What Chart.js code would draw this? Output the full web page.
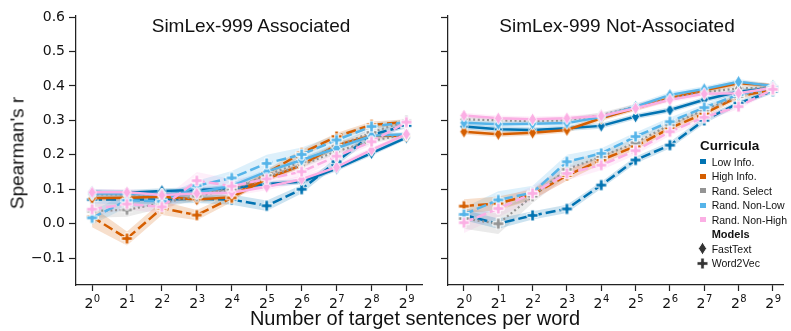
<!DOCTYPE html>
<html><head><meta charset="utf-8">
<script src="https://cdn.jsdelivr.net/npm/chart.js@4.4.1/dist/chart.umd.min.js"></script>
<style>
body{margin:0;background:#fff;width:791px;height:331px;overflow:hidden;position:relative;font-family:"Liberation Sans",Arial,sans-serif;color:#111}
canvas{position:absolute;top:0}
.t{position:absolute;white-space:nowrap;line-height:1}
.lg{position:absolute;white-space:nowrap;font-size:10.5px;line-height:12px;height:12px}
.sq{position:absolute;width:6px;height:5px}
</style></head><body>
<canvas id="c1" width="430" height="331" style="left:0"></canvas>
<canvas id="c2" width="361" height="331" style="left:430px"></canvas>
<div class="t" style="left:251px;top:25px;transform:translate(-50%,-50%);font-size:19px">SimLex-999 Associated</div>
<div class="t" style="left:617px;top:25px;transform:translate(-50%,-50%);font-size:19px">SimLex-999 Not-Associated</div>
<div class="t" style="left:17px;top:153px;transform:translate(-50%,-50%) rotate(-90deg);font-size:19px">Spearman's r</div>
<div class="t" style="left:415px;top:318px;transform:translate(-50%,-50%);font-size:20px">Number of target sentences per word</div>
<div id="legend"></div>
<script>
// ---- data ----
const xTickBase = ['2','2','2','2','2','2','2','2','2','2'];
const xTickExp  = ['0','1','2','3','4','5','6','7','8','9'];
const yTicks = [-0.1, 0.0, 0.1, 0.2, 0.3, 0.4, 0.5, 0.6];
const curricula = ['Low Info.', 'High Info.', 'Rand. Select', 'Rand. Non-Low', 'Rand. Non-High'];
const models = ['FastText', 'Word2Vec'];

// SimLex-999 Associated
const assocLowFT      = [0.092, 0.090, 0.095, 0.098, 0.103, 0.115, 0.122, 0.160, 0.205, 0.250];
const assocLowW2V     = [0.070, 0.070, 0.070, 0.072, 0.070, 0.052, 0.100, 0.180, 0.258, 0.285];
const assocHighFT     = [0.074, 0.075, 0.078, 0.070, 0.077, 0.130, 0.170, 0.228, 0.255, 0.255];
const assocHighW2V    = [0.020, -0.043, 0.045, 0.025, 0.075, 0.147, 0.205, 0.253, 0.287, 0.295];
const assocSelFT      = [0.085, 0.085, 0.085, 0.090, 0.100, 0.135, 0.170, 0.210, 0.240, 0.260];
const assocSelW2V     = [0.037, 0.040, 0.060, 0.080, 0.100, 0.140, 0.180, 0.225, 0.265, 0.298];
const assocNonLowFT   = [0.088, 0.088, 0.085, 0.090, 0.110, 0.151, 0.185, 0.219, 0.255, 0.260];
const assocNonLowW2V  = [0.017, 0.068, 0.065, 0.110, 0.133, 0.175, 0.201, 0.243, 0.282, 0.295];
const assocNonHighFT  = [0.091, 0.091, 0.083, 0.088, 0.090, 0.107, 0.129, 0.164, 0.214, 0.260];
const assocNonHighW2V = [0.042, 0.057, 0.049, 0.125, 0.109, 0.130, 0.151, 0.196, 0.238, 0.295];
// confidence half-widths
const assocLowFTci      = [0.008, 0.008, 0.008, 0.008, 0.008, 0.008, 0.008, 0.008, 0.008, 0.006];
const assocLowW2Vci     = [0.012, 0.012, 0.012, 0.012, 0.015, 0.015, 0.012, 0.012, 0.010, 0.008];
const assocHighFTci     = [0.008, 0.008, 0.008, 0.008, 0.008, 0.008, 0.008, 0.008, 0.008, 0.006];
const assocHighW2Vci    = [0.030, 0.020, 0.020, 0.015, 0.012, 0.010, 0.010, 0.010, 0.010, 0.008];
const assocSelFTci      = [0.008, 0.008, 0.008, 0.008, 0.008, 0.008, 0.008, 0.008, 0.008, 0.006];
const assocSelW2Vci     = [0.020, 0.020, 0.015, 0.012, 0.010, 0.010, 0.010, 0.010, 0.010, 0.008];
const assocNonLowFTci   = [0.008, 0.008, 0.008, 0.008, 0.008, 0.008, 0.008, 0.008, 0.008, 0.006];
const assocNonLowW2Vci  = [0.020, 0.020, 0.015, 0.015, 0.020, 0.025, 0.020, 0.015, 0.010, 0.008];
const assocNonHighFTci  = [0.010, 0.010, 0.010, 0.010, 0.010, 0.010, 0.010, 0.010, 0.008, 0.006];
const assocNonHighW2Vci = [0.020, 0.015, 0.020, 0.025, 0.020, 0.015, 0.015, 0.012, 0.010, 0.008];

// SimLex-999 Not-Associated
const notLowFT      = [0.282, 0.274, 0.272, 0.277, 0.284, 0.311, 0.330, 0.360, 0.383, 0.395];
const notLowW2V     = [0.025, 0.000, 0.024, 0.043, 0.112, 0.185, 0.228, 0.300, 0.350, 0.385];
const notHighFT     = [0.267, 0.260, 0.264, 0.272, 0.306, 0.335, 0.364, 0.387, 0.408, 0.401];
const notHighW2V    = [0.051, 0.059, 0.085, 0.140, 0.185, 0.225, 0.277, 0.320, 0.369, 0.390];
const notSelFT      = [0.303, 0.300, 0.298, 0.300, 0.315, 0.340, 0.365, 0.382, 0.393, 0.395];
const notSelW2V     = [0.015, 0.000, 0.080, 0.158, 0.195, 0.235, 0.287, 0.330, 0.370, 0.398];
const notNonLowFT   = [0.293, 0.289, 0.290, 0.292, 0.310, 0.340, 0.374, 0.391, 0.412, 0.400];
const notNonLowW2V  = [0.027, 0.069, 0.090, 0.180, 0.204, 0.253, 0.296, 0.337, 0.375, 0.395];
const notNonHighFT  = [0.314, 0.306, 0.303, 0.306, 0.313, 0.335, 0.360, 0.377, 0.379, 0.395];
const notNonHighW2V = [0.003, 0.044, 0.088, 0.146, 0.170, 0.212, 0.267, 0.309, 0.340, 0.390];
const notLowFTci      = [0.008, 0.008, 0.008, 0.008, 0.008, 0.008, 0.008, 0.008, 0.008, 0.006];
const notLowW2Vci     = [0.015, 0.015, 0.012, 0.012, 0.010, 0.010, 0.010, 0.010, 0.008, 0.008];
const notHighFTci     = [0.008, 0.008, 0.008, 0.008, 0.008, 0.008, 0.008, 0.008, 0.008, 0.006];
const notHighW2Vci    = [0.020, 0.020, 0.015, 0.015, 0.012, 0.010, 0.010, 0.010, 0.008, 0.008];
const notSelFTci      = [0.008, 0.008, 0.008, 0.008, 0.008, 0.008, 0.008, 0.008, 0.008, 0.006];
const notSelW2Vci     = [0.030, 0.030, 0.020, 0.020, 0.015, 0.012, 0.010, 0.010, 0.008, 0.008];
const notNonLowFTci   = [0.008, 0.008, 0.008, 0.008, 0.008, 0.008, 0.008, 0.008, 0.008, 0.006];
const notNonLowW2Vci  = [0.020, 0.025, 0.020, 0.020, 0.015, 0.012, 0.012, 0.010, 0.008, 0.008];
const notNonHighFTci  = [0.008, 0.008, 0.008, 0.008, 0.008, 0.008, 0.008, 0.008, 0.008, 0.006];
const notNonHighW2Vci = [0.030, 0.025, 0.020, 0.020, 0.015, 0.012, 0.012, 0.010, 0.008, 0.008];

// ---- style ----
const colors = ['#0173b2', '#d55e00', '#949494', '#56b4e9', '#fbafe4'];
function rgba(hex, a){const n=parseInt(hex.slice(1),16);return `rgba(${n>>16},${(n>>8)&255},${n&255},${a})`;}

function diamondImg(color){
  const c=document.createElement('canvas');c.width=11;c.height=15;
  const g=c.getContext('2d');g.beginPath();
  g.moveTo(5.5,1);g.lineTo(9.6,7.5);g.lineTo(5.5,14);g.lineTo(1.4,7.5);g.closePath();
  g.fillStyle=color;g.fill();g.strokeStyle='#fff';g.lineWidth=1;g.stroke();return c;
}
function plusImg(color){
  const c=document.createElement('canvas');c.width=13;c.height=13;
  const g=c.getContext('2d');const cx=6.5,cy=6.5,a=1.8,L=5.5;
  const p=[[cx-a,cy-L],[cx+a,cy-L],[cx+a,cy-a],[cx+L,cy-a],[cx+L,cy+a],[cx+a,cy+a],[cx+a,cy+L],[cx-a,cy+L],[cx-a,cy+a],[cx-L,cy+a],[cx-L,cy-a],[cx-a,cy-a]];
  g.beginPath();p.forEach((q,i)=>i?g.lineTo(q[0],q[1]):g.moveTo(q[0],q[1]));g.closePath();
  g.fillStyle=color;g.fill();g.strokeStyle='#fff';g.lineWidth=1;g.stroke();return c;
}

function buildDatasets(series){
  const bands=[], lines=[];
  series.forEach((s,h)=>{
    const col=colors[h];
    [['ft',s.ft,s.ftCi],['w2v',s.w2v,s.w2vCi]].forEach(([m,vals,ci])=>{
      bands.push({data:vals.map((v,i)=>({x:i,y:v+ci[i]})),borderWidth:0,pointRadius:0,fill:false,order:100});
      bands.push({data:vals.map((v,i)=>({x:i,y:v-ci[i]})),borderWidth:0,pointRadius:0,fill:'-1',backgroundColor:rgba(col,0.2),order:100});
      let dash = m==='ft' ? [] : [10,4];
      if(h===2) dash=[2,2.6];
      lines.push({data:vals.map((v,i)=>({x:i,y:v})),borderColor:col,borderWidth:h===2?2.2:2.5,borderDash:dash,
        fill:false,tension:0,pointRadius:5,pointStyle:m==='ft'?diamondImg(col):plusImg(col),order:10-h*2-(m==='ft'?0:1)});
    });
  });
  return bands.concat(lines);
}

// power-of-two tick labels with real superscripts
const powerLabels={id:'powerLabels',afterDraw(chart){
  const sc=chart.scales.x,ctx=chart.ctx;ctx.save();ctx.fillStyle='#111';ctx.textBaseline='alphabetic';
  sc.ticks.forEach(t=>{
    const i=Math.round(t.value);if(i<0||i>=xTickBase.length)return;
    const x=sc.getPixelForValue(i);
    ctx.font='14px "DejaVu Sans"';const wb=ctx.measureText(xTickBase[i]).width;
    ctx.font='10px "DejaVu Sans"';const we=ctx.measureText(xTickExp[i]).width;
    const x0=x-(wb+we)/2, yb=sc.top+23.3;
    ctx.font='14px "DejaVu Sans"';ctx.fillText(xTickBase[i],x0,yb);
    ctx.font='10px "DejaVu Sans"';ctx.fillText(xTickExp[i],x0+wb+0.5,yb-6);
  });ctx.restore();}};

const axisGrid={drawOnChartArea:false,drawTicks:true,tickLength:6,color:'#222',tickWidth:1.2};
const axisBorder={display:true,color:'#222',width:1.25};
function makeOptions(xmin,xmax,yw,showY,padRight){
  return {responsive:false,animation:false,devicePixelRatio:1,
    layout:{padding:{top:16,right:padRight,bottom:0,left:0}},
    plugins:{legend:{display:false},tooltip:{enabled:false}},
    scales:{
      x:{type:'linear',min:xmin,max:xmax,
        afterBuildTicks:s=>{s.ticks=xTickBase.map((_,i)=>({value:i}));},
        afterFit:s=>{s.height=46;},
        ticks:{callback:()=>'',font:{family:'DejaVu Sans',size:14},padding:2,maxRotation:0,autoSkip:false},
        grid:axisGrid,border:axisBorder},
      y:{type:'linear',min:-0.178,max:0.603,
        afterBuildTicks:s=>{s.ticks=yTicks.map(v=>({value:v}));},
        afterFit:s=>{s.width=yw;},
        ticks:{display:showY,callback:v=>(v<-1e-9?'−':'')+Math.abs(v).toFixed(1),font:{family:'DejaVu Sans',size:14},color:'#111',padding:4},
        grid:Object.assign({},axisGrid,{tickLength:7}),border:axisBorder}
    }};
}

new Chart(document.getElementById('c1'),{type:'line',
  data:{datasets:buildDatasets([
    {ft:assocLowFT,ftCi:assocLowFTci,w2v:assocLowW2V,w2vCi:assocLowW2Vci},
    {ft:assocHighFT,ftCi:assocHighFTci,w2v:assocHighW2V,w2vCi:assocHighW2Vci},
    {ft:assocSelFT,ftCi:assocSelFTci,w2v:assocSelW2V,w2vCi:assocSelW2Vci},
    {ft:assocNonLowFT,ftCi:assocNonLowFTci,w2v:assocNonLowW2V,w2vCi:assocNonLowW2Vci},
    {ft:assocNonHighFT,ftCi:assocNonHighFTci,w2v:assocNonHighW2V,w2vCi:assocNonHighW2Vci}])},
  options:makeOptions(-0.46,9.46,76,true,7),plugins:[powerLabels]});

new Chart(document.getElementById('c2'),{type:'line',
  data:{datasets:buildDatasets([
    {ft:notLowFT,ftCi:notLowFTci,w2v:notLowW2V,w2vCi:notLowW2Vci},
    {ft:notHighFT,ftCi:notHighFTci,w2v:notHighW2V,w2vCi:notHighW2Vci},
    {ft:notSelFT,ftCi:notSelFTci,w2v:notSelW2V,w2vCi:notSelW2Vci},
    {ft:notNonLowFT,ftCi:notNonLowFTci,w2v:notNonLowW2V,w2vCi:notNonLowW2Vci},
    {ft:notNonHighFT,ftCi:notNonHighFTci,w2v:notNonHighW2V,w2vCi:notNonHighW2Vci}])},
  options:makeOptions(-0.465,9.31,18,false,0),plugins:[powerLabels]});

// ---- legend ----
const lg=document.getElementById('legend');
function addText(txt,x,cy,extra){const d=document.createElement('div');d.className='lg';d.textContent=txt;d.style.left=x+'px';d.style.top=(cy-6)+'px';if(extra)Object.assign(d.style,extra);lg.appendChild(d);}
addText('Curricula',700,146,{fontWeight:'bold',fontSize:'13.5px',lineHeight:'12px'});
const rowY=[161.7,176.2,190.7,205.2,219.7];
curricula.forEach((c,i)=>{
  const s=document.createElement('div');s.className='sq';s.style.background=colors[i];s.style.left='700px';s.style.top=(rowY[i]-2.5)+'px';lg.appendChild(s);
  addText(c,711.7,rowY[i]);
});
addText('Models',711.7,234,{fontWeight:'bold',fontSize:'11px'});
const mY=[248.5,263];
models.forEach((m,i)=>{
  const img=i===0?diamondImg('#333'):plusImg('#333');
  img.style.position='absolute';img.style.left=(702.5-img.width/2)+'px';img.style.top=(mY[i]-img.height/2)+'px';lg.appendChild(img);
  addText(m,711.7,mY[i]);
});
</script>
</body></html>
